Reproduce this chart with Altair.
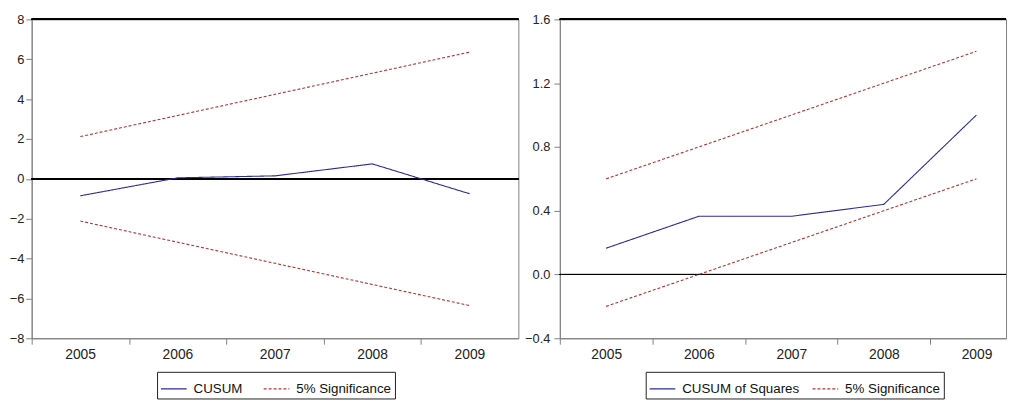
import altair as alt
import pandas as pd

# ---- data ----
years = [2005, 2006, 2007, 2008, 2009]
cusum = [-0.85, 0.05, 0.15, 0.75, -0.75]
cusum_upper = [2.12, 3.18, 4.24, 5.30, 6.36]
cusum_lower = [-2.12, -3.18, -4.24, -5.30, -6.36]

cusumsq = [0.165, 0.365, 0.365, 0.44, 1.0]
cusumsq_upper = [0.60, 0.80, 1.00, 1.20, 1.40]
cusumsq_lower = [-0.20, 0.00, 0.20, 0.40, 0.60]

left_yticks = [-8, -6, -4, -2, 0, 2, 4, 6, 8]
right_yticks = [-0.4, 0.0, 0.4, 0.8, 1.2, 1.6]
year_boundaries = [2004.5, 2005.5, 2006.5, 2007.5, 2008.5]

sig_name = "5% Significance"
BLUE = "#2a2a96"
RED = "#b33333"
FONT = "Liberation Sans"


def long_df(name, main, upper, lower):
    rows = []
    for y, m, u, l in zip(years, main, upper, lower):
        rows.append({"year": y, "value": m, "series": name, "line": "main"})
        rows.append({"year": y, "value": u, "series": sig_name, "line": "upper"})
        rows.append({"year": y, "value": l, "series": sig_name, "line": "lower"})
    return pd.DataFrame(rows)


def panel(df, name, ydom, yticks, yfmt, ylabpad, xdom, width, label_off,
          lx, ly, colpad):
    legend = alt.Legend(
        orient="none", legendX=lx, legendY=ly, direction="horizontal",
        title=None, strokeColor="#222222", padding=3,
        symbolType="stroke", symbolSize=676, symbolStrokeWidth=1.2,
        labelFont=FONT, labelFontSize=13.5, labelColor="#111111",
        columnPadding=colpad, labelOffset=6, labelLimit=300,
    )
    base = alt.Chart(df)
    lines = base.mark_line(strokeWidth=1.1).encode(
        x=alt.X(
            "year:Q",
            scale=alt.Scale(domain=xdom, nice=False, zero=False),
            axis=alt.Axis(
                values=year_boundaries,
                labelExpr="format(datum.value + 0.5, 'd')",
                labelOffset=label_off, tickSize=6, labelPadding=3,
                grid=False, title=None, domainColor="#808080",
                tickColor="#808080", labelFont=FONT, labelFontSize=14,
                labelColor="#222222", labelFlush=False, labelOverlap=False,
            ),
        ),
        y=alt.Y(
            "value:Q",
            scale=alt.Scale(domain=ydom, nice=False, zero=False),
            axis=alt.Axis(
                values=yticks, format=yfmt, tickSize=6, labelPadding=ylabpad,
                grid=False, title=None, domainColor="#808080",
                tickColor="#808080", labelFont=FONT, labelFontSize=13,
                labelColor="#222222", labelFlush=False, labelOverlap=False,
            ),
        ),
        color=alt.Color(
            "series:N",
            scale=alt.Scale(domain=[name, sig_name], range=[BLUE, RED]),
            legend=legend,
        ),
        strokeDash=alt.StrokeDash(
            "series:N",
            scale=alt.Scale(domain=[name, sig_name], range=[[1, 0], [3, 2]]),
            legend=legend,
        ),
        detail="line:N",
    )
    zero = alt.Chart(df).mark_rule(color="black", strokeWidth=1).encode(
        y=alt.datum(0)
    )
    top = alt.Chart(df).mark_rule(color="black", strokeWidth=1.3).encode(
        y=alt.value(0)
    )
    return alt.layer(zero, top, lines).properties(width=width, height=323)


left = panel(long_df("CUSUM", cusum, cusum_upper, cusum_lower),
             "CUSUM", [-8, 8], left_yticks, "d", 2,
             [2004.5, 2009.5], 493, 49, 127, 357, 18)
right = panel(long_df("CUSUM of Squares", cusumsq, cusumsq_upper, cusumsq_lower),
              "CUSUM of Squares", [-0.4, 1.6], right_yticks, ".1f", 4,
              [2004.5, 2009.32], 452, 47, 87, 357, 10)

chart = (
    alt.hconcat(left, right, spacing=3)
    .resolve_scale(color="independent", strokeDash="independent")
    .resolve_legend(color="independent", strokeDash="independent")
    .properties(padding={"left": 0, "top": 2, "right": 0, "bottom": 0},
                background="white")
    .configure_view(stroke="#808080", strokeWidth=1)
)

chart.save("out.html", embed_options={"renderer": "svg", "actions": False})
